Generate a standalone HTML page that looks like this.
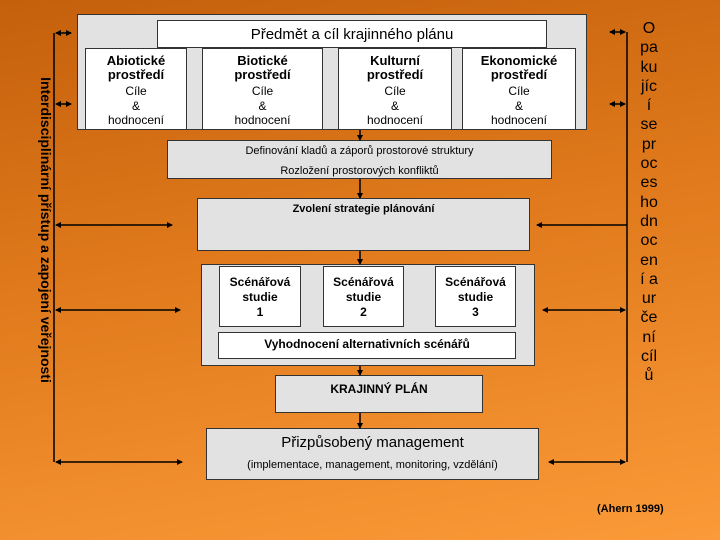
<!DOCTYPE html>
<html><head><meta charset="utf-8"><style>
*{margin:0;padding:0;box-sizing:border-box}
body{width:720px;height:540px;overflow:hidden;position:relative;font-family:"Liberation Sans",sans-serif;
background:linear-gradient(170deg,#c4600c 0%,#e07a1c 45%,#fb9a38 100%);}
.b{position:absolute;border:1px solid #333;text-align:center;color:#000}
.g{background:#e2e2e2}.w{background:#fff}
.t{position:absolute;text-align:center;color:#000}
.e{font-size:12px;line-height:14.5px;padding-top:5px;overflow:hidden}
.e b{font-size:13px;line-height:14px;display:block;margin-bottom:2px}
svg{position:absolute;left:0;top:0}
</style></head><body>
<div class="b g" style="left:77px;top:14px;width:510px;height:116px"></div>
<div class="b w" style="left:157px;top:20px;width:390px;height:28px;font-size:15px;line-height:27px">Předmět a cíl krajinného plánu</div>
<div class="b w e" style="left:85px;top:48px;width:102px;height:82px"><b>Abiotické<br>prostředí</b>Cíle<br>&amp;<br>hodnocení</div>
<div class="b w e" style="left:202px;top:48px;width:121px;height:82px"><b>Biotické<br>prostředí</b>Cíle<br>&amp;<br>hodnocení</div>
<div class="b w e" style="left:338px;top:48px;width:114px;height:82px"><b>Kulturní<br>prostředí</b>Cíle<br>&amp;<br>hodnocení</div>
<div class="b w e" style="left:462px;top:48px;width:114px;height:82px"><b>Ekonomické<br>prostředí</b>Cíle<br>&amp;<br>hodnocení</div>
<div class="b g" style="left:167px;top:140px;width:385px;height:39px;font-size:11px;line-height:20px">Definování kladů a záporů prostorové struktury<br>Rozložení prostorových konfliktů</div>
<div class="b g" style="left:197px;top:198px;width:333px;height:53px;font-size:11px;font-weight:bold;padding-top:4px">Zvolení strategie plánování</div>
<div class="b g" style="left:201px;top:264px;width:334px;height:102px"></div>
<div class="b w" style="left:219px;top:266px;width:82px;height:61px;font-size:12px;font-weight:bold;line-height:15px;padding-top:8px">Scénářová<br>studie<br>1</div>
<div class="b w" style="left:323px;top:266px;width:81px;height:61px;font-size:12px;font-weight:bold;line-height:15px;padding-top:8px">Scénářová<br>studie<br>2</div>
<div class="b w" style="left:435px;top:266px;width:81px;height:61px;font-size:12px;font-weight:bold;line-height:15px;padding-top:8px">Scénářová<br>studie<br>3</div>
<div class="b w" style="left:218px;top:332px;width:298px;height:27px;font-size:12px;font-weight:bold;line-height:22px">Vyhodnocení alternativních scénářů</div>
<div class="b g" style="left:275px;top:375px;width:208px;height:38px;font-size:12px;font-weight:bold;padding-top:6px">KRAJINNÝ PLÁN</div>
<div class="b g" style="left:206px;top:428px;width:333px;height:52px;font-size:15px;padding-top:5px;line-height:18px">Přizpůsobený management<br><span style="font-size:11px;line-height:26px">(implementace, management, monitoring, vzdělání)</span></div>
<div class="t" style="left:597px;top:503px;font-size:11px;font-weight:bold">(Ahern 1999)</div>
<div class="t" style="left:-114px;top:222px;width:320px;font-size:14px;font-weight:bold;transform:rotate(90deg);white-space:nowrap">Interdisciplinární přístup a zapojení veřejnosti</div>
<div class="t" style="left:628px;top:19px;width:42px;font-size:16px;line-height:19.3px">O<br>pa<br>ku<br>jíc<br>í<br>se<br>pr<br>oc<br>es<br>ho<br>dn<br>oc<br>en<br>í a<br>ur<br>če<br>ní<br>cíl<br>ů</div>
<svg width="720" height="540">
<defs><marker id="a" markerWidth="6" markerHeight="6" refX="5" refY="3" orient="auto-start-reverse" markerUnits="userSpaceOnUse"><path d="M0,0L6,3L0,6z" fill="#000"/></marker></defs>
<g stroke="#000" stroke-width="1.5" fill="none">
<line x1="54" y1="33" x2="54" y2="462"/>
<line x1="627" y1="32" x2="627" y2="462"/>
<line x1="56" y1="33" x2="71" y2="33" marker-start="url(#a)" marker-end="url(#a)"/>
<line x1="56" y1="104" x2="71" y2="104" marker-start="url(#a)" marker-end="url(#a)"/>
<line x1="56" y1="225" x2="172" y2="225" marker-start="url(#a)" marker-end="url(#a)"/>
<line x1="56" y1="310" x2="180" y2="310" marker-start="url(#a)" marker-end="url(#a)"/>
<line x1="56" y1="462" x2="182" y2="462" marker-start="url(#a)" marker-end="url(#a)"/>
<line x1="610" y1="32" x2="625" y2="32" marker-start="url(#a)" marker-end="url(#a)"/>
<line x1="610" y1="104" x2="625" y2="104" marker-start="url(#a)" marker-end="url(#a)"/>
<line x1="627" y1="225" x2="537" y2="225" marker-end="url(#a)"/>
<line x1="543" y1="310" x2="625" y2="310" marker-start="url(#a)" marker-end="url(#a)"/>
<line x1="549" y1="462" x2="625" y2="462" marker-start="url(#a)" marker-end="url(#a)"/>
<line x1="360" y1="130" x2="360" y2="140" marker-end="url(#a)"/>
<line x1="360" y1="179" x2="360" y2="198" marker-end="url(#a)"/>
<line x1="360" y1="251" x2="360" y2="264" marker-end="url(#a)"/>
<line x1="360" y1="366" x2="360" y2="375" marker-end="url(#a)"/>
<line x1="360" y1="413" x2="360" y2="428" marker-end="url(#a)"/>
</g></svg>
</body></html>
